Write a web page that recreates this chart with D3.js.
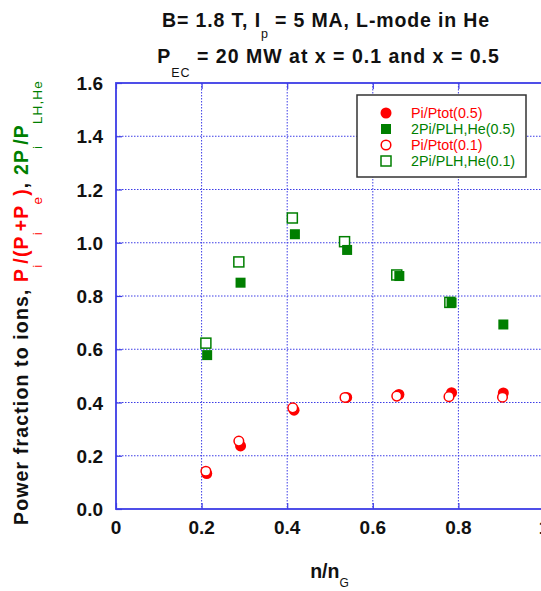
<!DOCTYPE html>
<html><head><meta charset="utf-8">
<script src="https://cdn.jsdelivr.net/npm/d3@7"></script>
<style>body{margin:0;background:#fff;} svg{display:block;font-family:Arial,"Liberation Sans",sans-serif;}</style>
</head><body>
<svg id="c" width="541" height="591"></svg>
<script>
// Data
const xTicks = [0, 0.2, 0.4, 0.6, 0.8, 1];
const xTickLabels = ["0", "0.2", "0.4", "0.6", "0.8", "1"];
const yTicks = [0, 0.2, 0.4, 0.6, 0.8, 1.0, 1.2, 1.4, 1.6];
const yTickLabels = ["0.0", "0.2", "0.4", "0.6", "0.8", "1.0", "1.2", "1.4", "1.6"];

const piPtot05_x = [0.212, 0.291, 0.416, 0.539, 0.661, 0.784, 0.905];
const piPtot05_y = [0.133, 0.237, 0.371, 0.419, 0.430, 0.437, 0.436];
const plh05_x = [0.213, 0.291, 0.418, 0.540, 0.662, 0.784, 0.905];
const plh05_y = [0.578, 0.850, 1.032, 0.973, 0.875, 0.775, 0.693];
const piPtot01_x = [0.210, 0.287, 0.413, 0.535, 0.656, 0.778, 0.903];
const piPtot01_y = [0.142, 0.255, 0.380, 0.419, 0.424, 0.422, 0.420];
const plh01_x = [0.210, 0.287, 0.412, 0.534, 0.656, 0.780];
const plh01_y = [0.623, 0.928, 1.093, 1.004, 0.879, 0.776];

const legendLabels = ["Pi/Ptot(0.5)", "2Pi/PLH,He(0.5)", "Pi/Ptot(0.1)", "2Pi/PLH,He(0.1)"];

const RED = "#ff0000", GREEN = "#007f00", BLUE = "#3c3ce6", INK = "#111";

const svg = d3.select("#c");
const L = 116, R = 544, T = 83, B = 509;
const x = d3.scaleLinear().domain([0, 1]).range([L, R]);
const y = d3.scaleLinear().domain([0, 1.6]).range([B, T]);

function fit(sel, target) {
  const w = sel.node().getBBox().width;
  const n = sel.text().length;
  if (n > 1) sel.attr("letter-spacing", ((target - w) / n).toFixed(2));
}

// Grid
const g = svg.append("g");
g.selectAll(".gx").data(xTicks.slice(1, -1)).join("line")
  .attr("x1", d => x(d)).attr("x2", d => x(d)).attr("y1", T).attr("y2", B)
  .attr("stroke", BLUE).attr("stroke-width", 1).attr("stroke-dasharray", "1.5,1.5");
g.selectAll(".gy").data(yTicks.slice(1, -1)).join("line")
  .attr("y1", d => y(d)).attr("y2", d => y(d)).attr("x1", L).attr("x2", R)
  .attr("stroke", BLUE).attr("stroke-width", 1).attr("stroke-dasharray", "1.5,1.5");

// Inner ticks via axes (no labels)
const axB = d3.axisBottom(x).tickValues(xTicks).tickSize(-6).tickFormat("");
const axT = d3.axisTop(x).tickValues(xTicks).tickSize(-6).tickFormat("");
const axL = d3.axisLeft(y).tickValues(yTicks).tickSize(-6).tickFormat("");
for (const [ax, tr] of [[axB, `translate(0,${B})`], [axT, `translate(0,${T})`], [axL, `translate(${L},0)`]]) {
  const a = svg.append("g").attr("transform", tr).call(ax);
  a.selectAll("line").attr("stroke", BLUE).attr("stroke-width", 1.2);
  a.select(".domain").remove();
}
// Frame
svg.append("rect").attr("x", L).attr("y", T).attr("width", R - L).attr("height", B - T)
  .attr("fill", "none").attr("stroke", BLUE).attr("stroke-width", 1.8);

// Tick labels
svg.append("g").selectAll("text").data(xTicks).join("text")
  .attr("x", d => x(d)).attr("y", B + 25).attr("text-anchor", "middle")
  .attr("font-size", 19).attr("font-weight", "bold").attr("fill", INK)
  .text((d, i) => xTickLabels[i]);
svg.append("g").selectAll("text").data(yTicks).join("text")
  .attr("x", 103).attr("y", d => y(d) + 7).attr("text-anchor", "end")
  .attr("font-size", 19).attr("font-weight", "bold").attr("fill", INK)
  .text((d, i) => yTickLabels[i]);

// Markers
const pts = (xs, ys) => xs.map((v, i) => [v, ys[i]]);
const S = 10;
svg.append("g").selectAll("rect").data(pts(plh01_x, plh01_y)).join("rect")
  .attr("x", d => x(d[0]) - S/2).attr("y", d => y(d[1]) - S/2).attr("width", S).attr("height", S)
  .attr("fill", "#fff").attr("stroke", GREEN).attr("stroke-width", 1.5);
svg.append("g").selectAll("rect").data(pts(plh05_x, plh05_y)).join("rect")
  .attr("x", d => x(d[0]) - S/2).attr("y", d => y(d[1]) - S/2).attr("width", S).attr("height", S)
  .attr("fill", GREEN);
svg.append("g").selectAll("circle").data(pts(piPtot05_x, piPtot05_y)).join("circle")
  .attr("cx", d => x(d[0])).attr("cy", d => y(d[1])).attr("r", 5.5).attr("fill", RED);
svg.append("g").selectAll("circle").data(pts(piPtot01_x, piPtot01_y)).join("circle")
  .attr("cx", d => x(d[0])).attr("cy", d => y(d[1])).attr("r", 4.8)
  .attr("fill", "#fff").attr("stroke", RED).attr("stroke-width", 1.5);

// Legend
const lg = svg.append("g");
lg.append("rect").attr("x", 357).attr("y", 95).attr("width", 169).attr("height", 82)
  .attr("fill", "#fff").attr("stroke", "#333").attr("stroke-width", 1.5);
const rowsY = [113, 129, 145, 161];
const legColors = [RED, GREEN, RED, GREEN];
rowsY.forEach((ry, i) => {
  if (i === 0) lg.append("circle").attr("cx", 386).attr("cy", ry).attr("r", 5.5).attr("fill", RED);
  if (i === 1) lg.append("rect").attr("x", 381).attr("y", ry - 5).attr("width", 10).attr("height", 10).attr("fill", GREEN);
  if (i === 2) lg.append("circle").attr("cx", 386).attr("cy", ry).attr("r", 4.8).attr("fill", "#fff").attr("stroke", RED).attr("stroke-width", 1.5);
  if (i === 3) lg.append("rect").attr("x", 381).attr("y", ry - 5).attr("width", 10).attr("height", 10).attr("fill", "#fff").attr("stroke", GREEN).attr("stroke-width", 1.5);
  lg.append("text").attr("x", 411).attr("y", ry + 5).attr("font-size", 14.3)
    .attr("fill", legColors[i]).text(legendLabels[i]);
});

// Title
const t1 = svg.append("text").attr("x", 326).attr("y", 27).attr("text-anchor", "middle")
  .attr("font-size", 19.5).attr("font-weight", "bold").attr("fill", INK);
t1.append("tspan").text("B= 1.8 T, I");
t1.append("tspan").attr("font-size", 12.5).attr("font-weight", "normal").attr("dy", 11).text("p");
t1.append("tspan").attr("dy", -11).text(" = 5 MA, L-mode in He");
fit(t1, 328);
const t2 = svg.append("text").attr("x", 328.5).attr("y", 63).attr("text-anchor", "middle")
  .attr("font-size", 19.5).attr("font-weight", "bold").attr("fill", INK);
t2.append("tspan").text("P");
t2.append("tspan").attr("font-size", 12.5).attr("font-weight", "normal").attr("dy", 14).text("EC");
t2.append("tspan").attr("dy", -14).text(" = 20 MW at x = 0.1 and x = 0.5");
fit(t2, 343);

// X label
const xl = svg.append("text").attr("x", 329.5).attr("y", 578).attr("text-anchor", "middle")
  .attr("font-size", 19.5).attr("font-weight", "bold").attr("fill", INK);
xl.append("tspan").text("n/n");
xl.append("tspan").attr("font-size", 12).attr("font-weight", "normal").attr("dy", 9).text("G");

// Y label
const yl = svg.append("text").attr("transform", "translate(28,302.5) rotate(-90)").attr("text-anchor", "middle")
  .attr("font-size", 19.5).attr("font-weight", "bold").attr("fill", INK);
const parts = [
  ["Power fraction to ions, ", INK, false],
  ["P", RED, false], ["i", RED, true], ["/(P", RED, false], ["i", RED, true],
  ["+P", RED, false], ["e", RED, true], [")", RED, false],
  [", ", INK, false],
  ["2P", GREEN, false], ["i", GREEN, true], ["/P", GREEN, false], ["LH,He", GREEN, true]
];
let prevSub = false;
parts.forEach(([txt, col, sub]) => {
  const ts = yl.append("tspan").attr("fill", col).text(txt);
  if (sub) ts.attr("font-size", 13.5).attr("font-weight", "normal");
  if (sub && !prevSub) ts.attr("dy", 14);
  if (!sub && prevSub) ts.attr("dy", -14);
  prevSub = sub;
});
fit(yl, 445);
</script>
</body></html>
